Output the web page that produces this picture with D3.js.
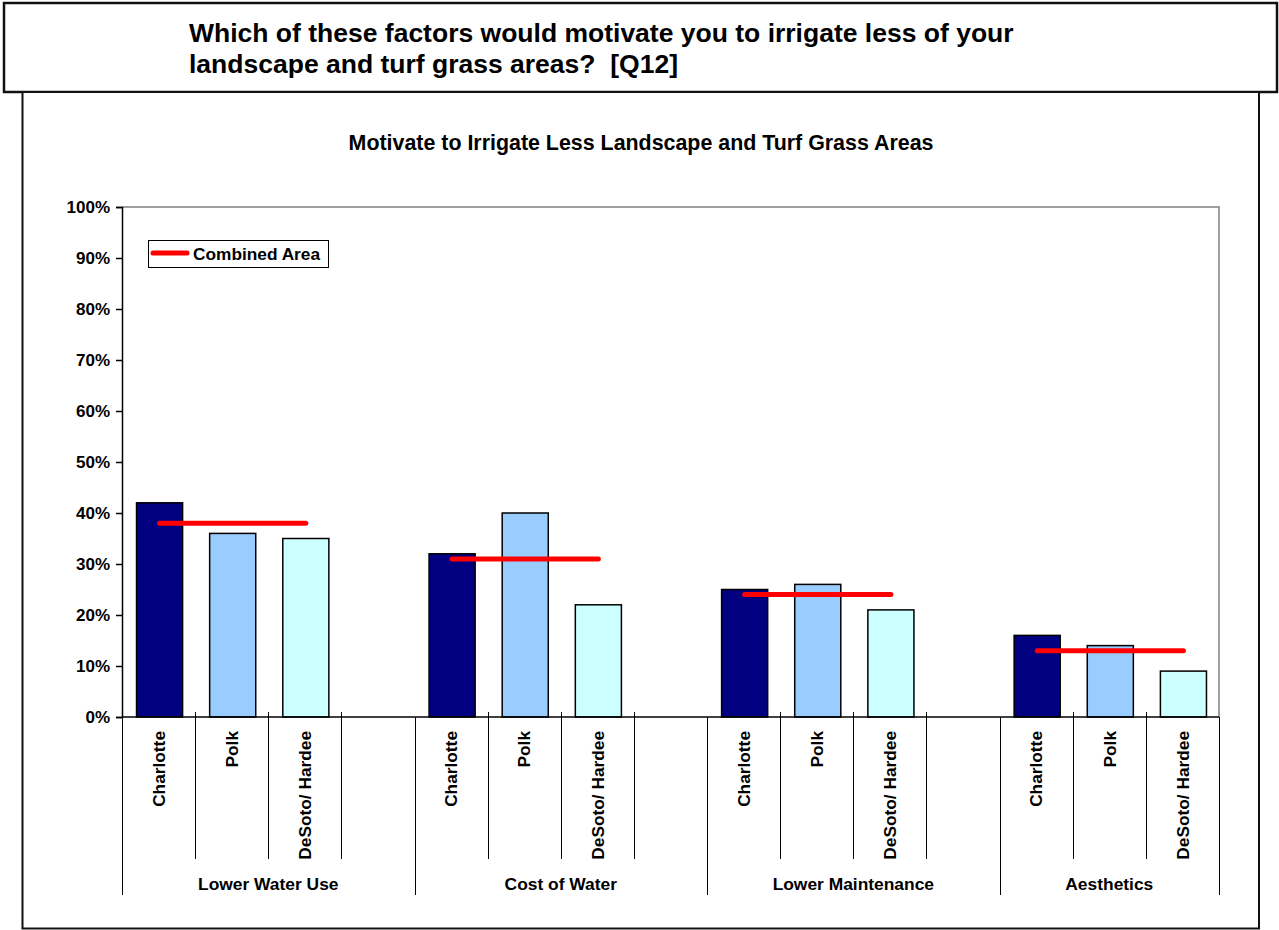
<!DOCTYPE html>
<html>
<head>
<meta charset="utf-8">
<script src="https://cdn.jsdelivr.net/npm/d3@7"></script>
<style>
  html, body { margin: 0; padding: 0; background: #fff; }
  svg { display: block; }
  text { font-family: "Liberation Sans", Arial, sans-serif; font-weight: bold; fill: #000; white-space: pre; }
</style>
</head>
<body>
<svg id="chart" width="1279" height="930"></svg>
<script>
// Survey factors (outer category level) and regions (inner level)
const factors = ["Lower Water Use", "Cost of Water", "Lower Maintenance", "Aesthetics"];
const regions = ["Charlotte", "Polk", "DeSoto/ Hardee"];

// Share of respondents per factor, in percent
const charlotte = [42, 32, 25, 16];
const polk      = [36, 40, 26, 14];
const desoto    = [35, 22, 21, 9];
const combined  = [38, 31, 24, 13];

const yTicks = [0, 10, 20, 30, 40, 50, 60, 70, 80, 90, 100];
const regionColors = ["#000080", "#99CCFF", "#CCFFFF"];

const seriesByRegion = [charlotte, polk, desoto];

// One slot per region within each factor, plus a spacer slot between factors
const slots = [];
factors.forEach((f, fi) => {
  regions.forEach((r, ri) => slots.push({ key: f + "|" + r, factor: fi, region: ri }));
  if (fi < factors.length - 1) slots.push({ key: f + "|gap", factor: fi, region: -1 });
});

const svg = d3.select("#chart");

// Outer frames
svg.append("rect").attr("x", 4).attr("y", 3).attr("width", 1273).attr("height", 89)
  .attr("fill", "#fff").attr("stroke", "#111").attr("stroke-width", 2.5);
svg.append("rect").attr("x", 22.5).attr("y", 92).attr("width", 1236.5).attr("height", 836.5)
  .attr("fill", "#fff").attr("stroke", "#111").attr("stroke-width", 2);

// Heading
const heading = svg.append("text").attr("x", 189).attr("y", 42).style("font-size", "26.5px");
heading.append("tspan").attr("x", 189).attr("y", 42)
  .text("Which of these factors would motivate you to irrigate less of your");
heading.append("tspan").attr("x", 189).attr("y", 73)
  .text("landscape and turf grass areas?  [Q12]");

// Chart title
svg.append("text").attr("x", 641).attr("y", 150).attr("text-anchor", "middle")
  .style("font-size", "21.4px")
  .text("Motivate to Irrigate Less Landscape and Turf Grass Areas");

const plot = { left: 122, right: 1219, top: 207, bottom: 717 };

const x = d3.scaleBand().domain(slots.map(d => d.key)).range([plot.left, plot.right]).padding(0);
const y = d3.scaleLinear().domain([0, 100]).range([plot.bottom, plot.top]);
const barW = x.bandwidth() * 0.63;

// Plot area border (top and right)
svg.append("path")
  .attr("d", `M${plot.left},${plot.top}H${plot.right}V${plot.bottom}`)
  .attr("fill", "none").attr("stroke", "#808080").attr("stroke-width", 1.5);

// Bars
const bars = [];
slots.forEach(s => {
  if (s.region >= 0) bars.push({ key: s.key, region: s.region, value: seriesByRegion[s.region][s.factor] });
});
svg.append("g").selectAll("rect").data(bars).join("rect")
  .attr("x", d => x(d.key) + (x.bandwidth() - barW) / 2 + 1)
  .attr("y", d => y(d.value))
  .attr("width", barW)
  .attr("height", d => y(0) - y(d.value))
  .attr("fill", d => regionColors[d.region])
  .attr("stroke", "#000").attr("stroke-width", 1.5);

// Y axis
const yAxis = svg.append("g").attr("transform", `translate(${plot.left},0)`)
  .call(d3.axisLeft(y).tickValues(yTicks).tickFormat(d => d + "%").tickSize(6).tickPadding(6));
yAxis.select(".domain").attr("stroke", "#000").attr("stroke-width", 1.5);
yAxis.selectAll(".tick line").attr("stroke", "#000").attr("stroke-width", 1.5);
yAxis.selectAll(".tick text").style("font-size", "17px").style("font-family", "Liberation Sans, Arial, sans-serif")
  .style("font-weight", "bold").attr("fill", "#000");

// Category axis baseline
svg.append("line").attr("x1", plot.left).attr("x2", plot.right)
  .attr("y1", plot.bottom).attr("y2", plot.bottom)
  .attr("stroke", "#000").attr("stroke-width", 1.5);

// Dividers between inner categories (short) and factors (long)
const catAxis = svg.append("g");
slots.forEach((s, i) => {
  if (i === 0) return;
  const xx = Math.round(x(s.key)) + 0.5;
  const groupStart = s.factor !== slots[i - 1].factor;
  catAxis.append("line").attr("x1", xx).attr("x2", xx)
    .attr("y1", groupStart ? plot.bottom : plot.bottom - 5)
    .attr("y2", groupStart ? 895 : 859)
    .attr("stroke", "#000").attr("stroke-width", 1);
});
[plot.left, plot.right].forEach(xx => {
  catAxis.append("line").attr("x1", xx + 0.5).attr("x2", xx + 0.5)
    .attr("y1", plot.bottom).attr("y2", 895)
    .attr("stroke", "#000").attr("stroke-width", 1);
});

// Inner category labels (rotated)
svg.append("g").selectAll("text").data(slots.filter(s => s.region >= 0)).join("text")
  .attr("transform", d => `translate(${x(d.key) + x.bandwidth() / 2},731) rotate(-90)`)
  .attr("text-anchor", "end").attr("dy", "0.36em")
  .style("font-size", "17.3px")
  .text(d => regions[d.region]);

// Factor labels
const factorExtent = factors.map((f, fi) => {
  const members = slots.filter(s => s.factor === fi);
  const start = x(members[0].key);
  const end = fi < factors.length - 1 ? x(slots[slots.indexOf(members[members.length - 1]) + 1].key) : plot.right;
  return { name: f, mid: (start + end) / 2 };
});
svg.append("g").selectAll("text").data(factorExtent).join("text")
  .attr("x", d => d.mid).attr("y", 890).attr("text-anchor", "middle")
  .style("font-size", "17.4px")
  .text(d => d.name);

// Combined-area lines, spanning each factor's regions
const line = d3.line().x(d => d[0]).y(d => d[1]);
factors.forEach((f, fi) => {
  const pts = regions.map(r => [x(f + "|" + r) + x.bandwidth() / 2 + 1, y(combined[fi])]);
  svg.append("path").attr("d", line(pts))
    .attr("fill", "none").attr("stroke", "#FF0000").attr("stroke-width", 5)
    .attr("stroke-linecap", "round");
});

// Legend
const legend = svg.append("g");
legend.append("rect").attr("x", 148.5).attr("y", 240.5).attr("width", 180).attr("height", 27)
  .attr("fill", "#fff").attr("stroke", "#000").attr("stroke-width", 1);
legend.append("line").attr("x1", 153).attr("x2", 187).attr("y1", 253).attr("y2", 253)
  .attr("stroke", "#FF0000").attr("stroke-width", 5).attr("stroke-linecap", "round");
legend.append("text").attr("x", 193).attr("y", 259.5).style("font-size", "17.3px").text("Combined Area");
</script>
</body>
</html>
